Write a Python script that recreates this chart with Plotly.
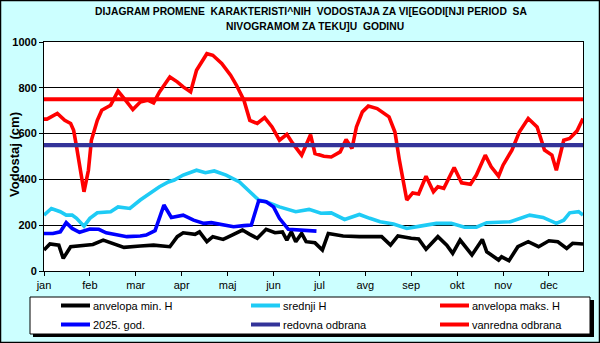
import plotly.graph_objects as go

# ---- data (day of year, value in cm) ----
max_days = [1, 3, 10, 15, 19, 21, 23, 26, 28, 31, 33, 37, 40, 46, 51, 56, 61, 66, 71, 75, 79, 86, 91, 95, 100,
            104, 111, 115, 121, 127, 131, 136, 140, 145, 150, 155, 160, 165, 169, 175, 181, 184, 190, 195, 201,
            205, 209, 212, 216, 220, 226, 234, 238, 241, 244, 246, 250, 254, 259, 264, 267, 271, 278, 283, 289,
            293, 299, 303, 308, 311, 317, 322, 328, 334, 339, 344, 347, 352, 356, 361, 365]
max_vals = [663, 663, 688, 658, 644, 615, 542, 426, 346, 440, 571, 658, 702, 724, 786, 746, 705, 738, 746, 734,
            782, 847, 826, 804, 782, 877, 949, 942, 906, 855, 811, 746, 658, 644, 670, 629, 571, 597, 557, 506,
            595, 513, 501, 498, 520, 574, 535, 629, 695, 720, 709, 673, 607, 484, 368, 310, 341, 336, 414, 346,
            368, 361, 452, 385, 379, 419, 506, 455, 414, 462, 528, 607, 666, 629, 528, 506, 440, 571, 579, 612, 666]

mean_days = [1, 6, 12, 16, 20, 23, 28, 32, 37, 46, 51, 59, 66, 73, 79, 85, 89, 95, 104, 110, 116, 124, 133, 140,
             146, 151, 160, 171, 174, 180, 188, 195, 204, 214, 221, 228, 237, 246, 255, 266, 276, 285, 293, 300,
             316, 329, 338, 347, 352, 356, 362, 365]
mean_vals = [244, 273, 259, 244, 244, 230, 196, 230, 254, 259, 280, 273, 310, 341, 368, 389, 397, 419, 440, 429,
             437, 419, 389, 346, 310, 302, 280, 259, 263, 269, 252, 254, 225, 247, 230, 215, 205, 186, 196, 208,
             208, 191, 191, 211, 215, 244, 234, 208, 222, 254, 259, 244]

cur_days = [1, 7, 12, 16, 20, 25, 32, 38, 43, 50, 57, 66, 70, 76, 79, 82, 87, 95, 102, 109, 114, 121, 129, 136,
            141, 146, 151, 156, 160, 166, 176, 185]
cur_vals = [164, 164, 171, 211, 186, 169, 183, 182, 167, 160, 150, 153, 157, 176, 237, 288, 234, 244, 222, 208,
            211, 201, 193, 198, 201, 307, 302, 280, 230, 182, 179, 174]

min_days = [1, 5, 11, 14, 19, 25, 34, 41, 48, 55, 66, 75, 86, 91, 95, 103, 106, 111, 115, 122, 128, 135, 140, 145,
            151, 157, 162, 165, 168, 171, 175, 178, 184, 189, 193, 203, 214, 229, 235, 240, 249, 254, 259, 267,
            273, 277, 282, 290, 297, 300, 308, 310, 315, 321, 328, 335, 342, 348, 354, 358, 365]
min_vals = [92, 118, 113, 55, 106, 109, 116, 135, 118, 103, 109, 113, 106, 150, 167, 160, 171, 128, 150, 138, 157,
            179, 160, 143, 182, 167, 171, 135, 171, 128, 164, 128, 123, 92, 164, 153, 150, 150, 113, 153, 143, 140,
            95, 150, 113, 77, 135, 70, 138, 84, 48, 62, 45, 106, 128, 106, 132, 128, 99, 121, 118]

redovna = 550
vanredna = 750
year_span = [1, 365]

tick_days = [1, 32, 63, 94, 125, 156, 187, 218, 249, 280, 311, 342]
tick_labels = ["jan", "feb", "mar", "apr", "maj", "jun", "jul", "avg", "sep", "okt", "nov", "dec"]
y_ticks = [0, 200, 400, 600, 800, 1000]

title_l1 = "DIJAGRAM PROMENE\u00a0 KARAKTERISTI^NIH\u00a0 VODOSTAJA ZA VI[EGODI[NJI PERIOD\u00a0 SA"
title_l2 = "NIVOGRAMOM ZA TEKU]U\u00a0 GODINU"

# ---- layout geometry (pixels) ----
W, H = 600, 343
L, R, T, B = 44, 583, 42, 271
pw, ph = R - L, B - T


def px(x):
    return (x - L) / pw


def py(y):
    return (B - y) / ph


FONT = "Liberation Sans, Arial, sans-serif"
LW = 3.6

series = [
    ("anvelopa min. H", min_days, min_vals, "#000000", LW),
    ("srednji H", mean_days, mean_vals, "#1ECBF5", LW),
    ("anvelopa maks. H", max_days, max_vals, "#FF0000", LW),
    ("2025. god.", cur_days, cur_vals, "#0000FF", LW),
    ("redovna odbrana", year_span, [redovna, redovna], "#333399", 4.2),
    ("vanredna odbrana", year_span, [vanredna, vanredna], "#FF0000", 4.2),
]

fig = go.Figure()
for name, xs, ys, col, w in series:
    fig.add_trace(go.Scatter(x=xs, y=ys, mode="lines", name=name, showlegend=False,
                             line=dict(color=col, width=w)))

shapes = [
    # outer frame
    dict(type="rect", xref="paper", yref="paper", x0=px(0.5), x1=px(W - 0.5), y0=py(0.5), y1=py(H - 0.5),
         line=dict(color="black", width=1.5), fillcolor="rgba(0,0,0,0)", layer="below"),
    # legend shadow
    dict(type="rect", xref="paper", yref="paper", x0=px(33), x1=px(594), y0=py(300), y1=py(337),
         line=dict(width=0), fillcolor="black", layer="below"),
    # legend box
    dict(type="rect", xref="paper", yref="paper", x0=px(30), x1=px(590), y0=py(297), y1=py(334),
         line=dict(color="black", width=1), fillcolor="white", layer="below"),
]

annotations = [
    dict(text="<b>" + title_l1 + "</b>", x=px(311), y=py(12), xref="paper", yref="paper",
         showarrow=False, xanchor="center", yanchor="middle", font=dict(family=FONT, size=10.3, color="black")),
    dict(text="<b>" + title_l2 + "</b>", x=px(315), y=py(26), xref="paper", yref="paper",
         showarrow=False, xanchor="center", yanchor="middle", font=dict(family=FONT, size=10.3, color="black")),
    dict(text="<b>Vodostaj (cm)</b>", x=px(14), y=py(155), xref="paper", yref="paper", textangle=-90,
         showarrow=False, xanchor="center", yanchor="middle", font=dict(family=FONT, size=13, color="black")),
]

# legend drawn manually: 3 columns x 2 rows
col_x = [61, 251, 440]
row_y = [305.5, 324.5]
for i, (name, xs, ys, col, w) in enumerate(series):
    cx = col_x[i % 3]
    ry = row_y[i // 3]
    shapes.append(dict(type="line", xref="paper", yref="paper", x0=px(cx), x1=px(cx + 29),
                       y0=py(ry), y1=py(ry), line=dict(color=col, width=4)))
    annotations.append(dict(text=name, x=px(cx + 30), y=py(ry), xref="paper", yref="paper",
                            showarrow=False, xanchor="left", yanchor="middle",
                            font=dict(family=FONT, size=11, color="black")))

fig.update_layout(
    width=W, height=H,
    margin=dict(l=L, r=W - R, t=T, b=H - B, pad=0),
    paper_bgcolor="#CCFFFF",
    plot_bgcolor="white",
    font=dict(family=FONT, size=11, color="black"),
    showlegend=False,
    shapes=shapes,
    annotations=annotations,
    xaxis=dict(range=[1, 365], tickmode="array", tickvals=tick_days, ticktext=tick_labels,
               showgrid=False, zeroline=False, showline=True, linecolor="black", linewidth=1,
               mirror=True, ticks="outside", ticklen=4, tickcolor="black",
               tickfont=dict(family=FONT, size=11, color="black")),
    yaxis=dict(range=[0, 1000], tickmode="array", tickvals=y_ticks,
               ticktext=["<b>%d</b>" % v for v in y_ticks],
               showgrid=True, gridcolor="black", gridwidth=1, zeroline=False,
               showline=True, linecolor="black", linewidth=1, mirror=True,
               ticks="outside", ticklen=4, tickcolor="black",
               tickfont=dict(family=FONT, size=11, color="black")),
)

fig.write_html("out.html")
